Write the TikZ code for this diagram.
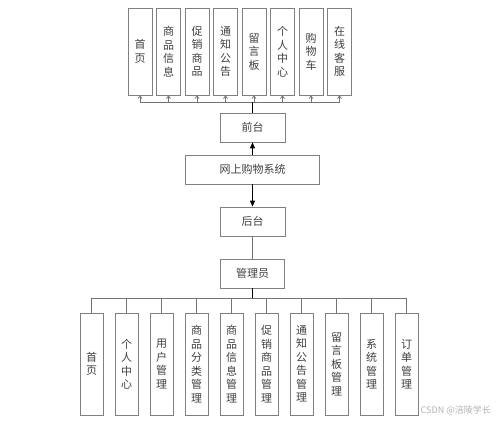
\documentclass[tikz,border=0pt]{standalone}
\usepackage{fontspec}
\newfontfamily\cjk{Noto Sans CJK SC}
\usetikzlibrary{arrows.meta}
\begin{document}
\begin{tikzpicture}[x=1pt,y=-1pt,
  box/.style={draw=black!50, line width=0.8pt, fill=white, inner sep=0pt, font=\cjk\fontsize{11}{13.5}\selectfont, text=black!75, align=center},
  topbox/.style={box, minimum width=24pt, minimum height=87pt},
  botbox/.style={box, minimum width=23pt, minimum height=102pt},
  midbox/.style={box, minimum height=29pt},
  gline/.style={draw=black!55, line width=0.8pt},
  kline/.style={draw=black, line width=0.9pt},
  ]
\useasboundingbox (0,0) rectangle (499,421);
% top boxes
\foreach \i/\t in {0/首\\页, 1/商\\品\\信\\息, 2/促\\销\\商\\品, 3/通\\知\\公\\告, 4/留\\言\\板, 5/个\\人\\中\\心, 6/购\\物\\车, 7/在\\线\\客\\服} {
  \node[topbox] (t\i) at ({140+28.5*\i}, 51.5) {\t};
  \coordinate (tb\i) at ({140+28.5*\i}, 102);
  \draw[gline, -{Straight Barb[length=2.5pt,width=4pt]}] (tb\i) -- (t\i.south);
}
\draw[gline] (tb0) -- (tb7);
% middle
\node[midbox, minimum width=65pt] (qt) at (252.5,127.5) {前台};
\node[midbox, minimum width=134pt] (sys) at (252.5,169.5) {网上购物系统};
\node[midbox, minimum width=65pt] (ht) at (252.5,221.5) {后台};
\node[midbox, minimum width=64pt] (gly) at (252.5,273.5) {管理员};
\coordinate (tbus) at (252.5,102);
\draw[kline] (qt.north) -- (tbus);
\draw[kline, -{Triangle[length=6pt,width=5pt]}] (sys.north) -- (qt.south);
\draw[kline, -{Triangle[length=6pt,width=5pt]}] (sys.south) -- (ht.north);
\draw[gline] (ht.south) -- (gly.north);
\coordinate (bbus) at (252.5,298);
\draw[kline] (gly.south) -- (bbus);
% bottom boxes
\foreach \i/\t in {0/首\\页, 1/个\\人\\中\\心, 2/用\\户\\管\\理, 3/商\\品\\分\\类\\管\\理, 4/商\\品\\信\\息\\管\\理, 5/促\\销\\商\\品\\管\\理, 6/通\\知\\公\\告\\管\\理, 7/留\\言\\板\\管\\理, 8/系\\统\\管\\理, 9/订\\单\\管\\理} {
  \node[botbox] (b\i) at ({91.5+35*\i}, 364) {\t};
  \coordinate (bb\i) at ({91.5+35*\i}, 298);
  \draw[gline] (bb\i) -- (b\i.north);
}
\draw[gline] (bb0) -- (bb9);
% watermark
\node[font=\cjk\fontsize{9}{10}\selectfont, text=black!30, anchor=east, inner sep=0pt] (wm) at (491,410) {CSDN @涪陵学长};
\end{tikzpicture}
\end{document}
